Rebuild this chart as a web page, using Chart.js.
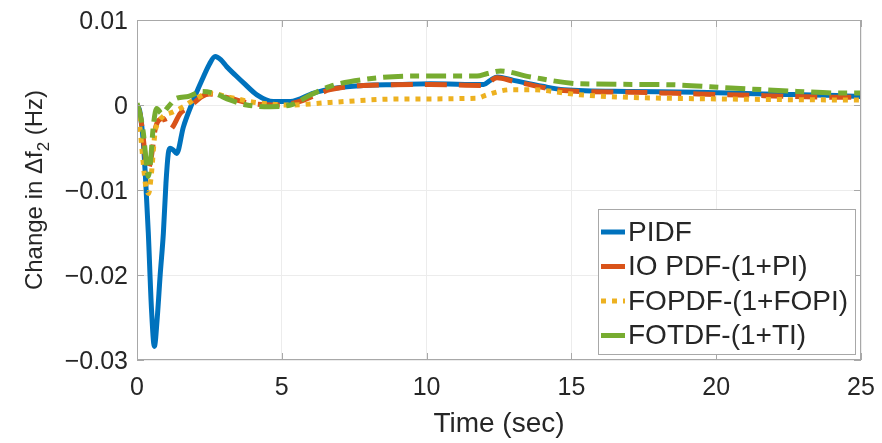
<!DOCTYPE html>
<html>
<head>
<meta charset="utf-8">
<style>
  html, body { margin: 0; padding: 0; background: #fff; }
  #wrap { width: 882px; height: 443px; position: relative; }
</style>
<script src="https://cdn.jsdelivr.net/npm/chart.js@4.4.1/dist/chart.umd.min.js"></script>
</head>
<body>
<div id="wrap"><canvas id="chart" width="882" height="443"></canvas></div>
<script>
// values (time in sec, change in Hz)
const seriesLabels = ["PIDF", "IO PDF-(1+PI)", "FOPDF-(1+FOPI)", "FOTDF-(1+TI)"];

const pidfT = [0, 0.1, 0.22, 0.3, 0.39, 0.5, 0.6, 0.7, 0.8, 0.91, 1.0, 1.08, 1.14, 1.25, 1.37, 1.6, 1.95, 2.24, 2.5, 2.7, 2.9, 3.1, 3.4, 3.68, 4.14, 4.71, 5.29, 6.1, 6.67, 7.82, 9, 10.13, 11.97, 12.2, 12.43, 13.0, 14.0, 14.74, 17.04, 19.35, 21.65, 24.3, 25];
const pidfY = [0, -0.0008, -0.0045, -0.009, -0.015, -0.024, -0.0284, -0.025, -0.020, -0.0151, -0.0092, -0.0057, -0.0051, -0.0053, -0.0057, -0.0026, 0.0006, 0.0029, 0.0048, 0.0057, 0.0053, 0.0045, 0.0035, 0.0026, 0.0012, 0.0004, 0.0004, 0.0014, 0.0019, 0.0023, 0.0024, 0.0025, 0.0024, 0.0029, 0.0033, 0.0029, 0.0022, 0.0018, 0.0016, 0.0015, 0.0013, 0.0011, 0.001];

const ioT = [0, 0.1, 0.22, 0.3, 0.39, 0.5, 0.62, 0.75, 0.91, 1.05, 1.14, 1.25, 1.49, 1.83, 2.24, 2.5, 3.21, 3.9, 4.9, 5.5, 6.67, 7.82, 10.13, 11.97, 12.43, 13.0, 14.74, 17.04, 19.35, 21.65, 24.3, 25];
const ioY = [0, -0.001, -0.004, -0.0065, -0.0075, -0.006, -0.003, -0.0018, -0.0016, -0.0026, -0.0029, -0.0025, -0.001, -0.0002, 0.001, 0.0013, 0.0008, 0.0002, 0, 0.0003, 0.0018, 0.0023, 0.0024, 0.0023, 0.0032, 0.0028, 0.0017, 0.0015, 0.0013, 0.0011, 0.0009, 0.0009];

const fopT = [0, 0.1, 0.22, 0.3, 0.4, 0.5, 0.62, 0.75, 0.91, 1.26, 1.6, 2.06, 2.52, 3.2, 4.1, 5.3, 6.67, 8.97, 11.74, 12.09, 12.9, 13.6, 15.3, 17, 20.5, 24.3, 25];
const fopY = [0, -0.0026, -0.007, -0.0095, -0.0104, -0.008, -0.0033, -0.002, -0.0013, -0.0008, -0.0002, 0.0008, 0.0014, 0.0009, 0.0003, 0, 0.0003, 0.0007, 0.0008, 0.0012, 0.0018, 0.0018, 0.0012, 0.0009, 0.0007, 0.0006, 0.0006];

const fotT = [0, 0.1, 0.22, 0.3, 0.39, 0.47, 0.56, 0.68, 0.85, 1.08, 1.37, 1.77, 2.24, 2.64, 3.21, 3.79, 4.6, 5.3, 6.0, 6.67, 7.82, 9.55, 11.74, 12.1, 12.55, 13.6, 15.3, 18.2, 20.5, 22.8, 24.3, 25];
const fotY = [0.0002, -0.001, -0.0033, -0.006, -0.0084, -0.0065, -0.0026, -0.0004, -0.001, -0.0002, 0.0008, 0.001, 0.0016, 0.0014, 0.0006, 0, -0.0002, 0, 0.0012, 0.0022, 0.003, 0.0034, 0.0034, 0.0037, 0.004, 0.0033, 0.0025, 0.0024, 0.002, 0.0016, 0.0014, 0.0014];

const xTicks = [0, 5, 10, 15, 20, 25];
const yTicks = [-0.03, -0.02, -0.01, 0, 0.01];
const yTickLabels = ["\u22120.03", "\u22120.02", "\u22120.01", "0", "0.01"];

const colors = ["#0072BD", "#D95319", "#EDB120", "#77AC30"];
const dashes = [[], [22, 12], [5, 6], [20, 7, 9, 7]];
const textColor = "#262626";
const fontFamily = "'Liberation Sans', Arial, sans-serif";

function pts(ts, ys) {
  return ts.map((t, i) => ({ x: t, y: ys[i] }));
}

// box, inward ticks, y title with subscript and the legend
const figurePlugin = {
  id: "figure",
  afterDatasetsDraw(chart) {
    const { ctx, chartArea: a, scales } = chart;
    ctx.save();
    ctx.strokeStyle = "#a8a8a8";
    ctx.lineWidth = 1;
    ctx.strokeRect(a.left + 0.5, a.top + 0.5, a.right - a.left - 1, a.bottom - a.top - 1);
    ctx.beginPath();
    xTicks.forEach(v => {
      const x = Math.round(scales.x.getPixelForValue(v)) + 0.5;
      ctx.moveTo(x, a.bottom); ctx.lineTo(x, a.bottom - 7);
      ctx.moveTo(x, a.top); ctx.lineTo(x, a.top + 7);
    });
    yTicks.forEach(v => {
      const y = Math.round(scales.y.getPixelForValue(v)) + 0.5;
      ctx.moveTo(a.left, y); ctx.lineTo(a.left + 7, y);
      ctx.moveTo(a.right, y); ctx.lineTo(a.right - 7, y);
    });
    ctx.stroke();

    // legend
    const lx = 598, ly = 209, lw = 257, lh = 145;
    ctx.fillStyle = "#fff";
    ctx.fillRect(lx, ly, lw, lh);
    ctx.strokeStyle = "#a8a8a8";
    ctx.strokeRect(lx + 0.5, ly + 0.5, lw, lh);
    ctx.font = "28px " + fontFamily;
    ctx.textBaseline = "middle";
    seriesLabels.forEach((lab, i) => {
      const y = ly + 23 + i * 34.5;
      ctx.strokeStyle = colors[i];
      ctx.lineWidth = 5;
      ctx.setLineDash(i === 2 ? [5, 6] : []);
      ctx.beginPath();
      ctx.moveTo(lx + 3, y); ctx.lineTo(lx + 27, y);
      ctx.stroke();
      ctx.setLineDash([]);
      ctx.fillStyle = textColor;
      ctx.fillText(lab, lx + 30, y + 1);
    });

    // y axis title: Change in Δf₂ (Hz)
    ctx.translate(34, (a.top + a.bottom) / 2);
    ctx.rotate(-Math.PI / 2);
    const big = "24px " + fontFamily, small = "17px " + fontFamily;
    const p1 = "Change in \u0394f", p2 = "2", p3 = " (Hz)";
    ctx.font = big; const w1 = ctx.measureText(p1).width, w3 = ctx.measureText(p3).width;
    ctx.font = small; const w2 = ctx.measureText(p2).width;
    let x0 = -(w1 + w2 + w3) / 2;
    ctx.fillStyle = textColor;
    ctx.textBaseline = "alphabetic";
    ctx.font = big; ctx.fillText(p1, x0, 8);
    ctx.font = small; ctx.fillText(p2, x0 + w1, 15);
    ctx.font = big; ctx.fillText(p3, x0 + w1 + w2, 8);
    ctx.restore();
  }
};

const datasets = [
  [pidfT, pidfY], [ioT, ioY], [fopT, fopY], [fotT, fotY]
].map((s, i) => ({
  label: seriesLabels[i],
  data: pts(s[0], s[1]),
  borderColor: colors[i],
  borderWidth: 5,
  borderDash: dashes[i],
  pointRadius: 0,
  fill: false,
  cubicInterpolationMode: "monotone",
  order: 4 - i
}));

new Chart(document.getElementById("chart"), {
  type: "line",
  data: { datasets },
  plugins: [figurePlugin],
  options: {
    responsive: false,
    animation: false,
    layout: { padding: { top: 20, right: 21, left: 0, bottom: 0 } },
    plugins: { legend: { display: false }, tooltip: { enabled: false } },
    scales: {
      x: {
        type: "linear",
        min: 0, max: 25,
        afterBuildTicks: s => { s.ticks = xTicks.map(v => ({ value: v })); },
        afterFit: s => { s.height = 83; s.paddingLeft = 0; s.paddingRight = 0; },
        grid: { color: "#ececec", drawTicks: false },
        border: { display: false },
        ticks: { color: textColor, padding: 13, maxRotation: 0, font: { size: 25, family: fontFamily } },
        title: { display: true, text: "Time (sec)", color: textColor, padding: { top: 0, bottom: 2 }, font: { size: 28, family: fontFamily } }
      },
      y: {
        type: "linear",
        min: -0.03, max: 0.01,
        afterBuildTicks: s => { s.ticks = yTicks.map(v => ({ value: v })); },
        afterFit: s => { s.width = 137; s.paddingTop = 0; s.paddingBottom = 0; },
        grid: { color: "#ececec", drawTicks: false },
        border: { display: false },
        ticks: {
          color: textColor, padding: 9, labelOffset: 2, font: { size: 25, family: fontFamily },
          callback: (v, i) => yTickLabels[i]
        }
      }
    }
  }
});
</script>
</body>
</html>
